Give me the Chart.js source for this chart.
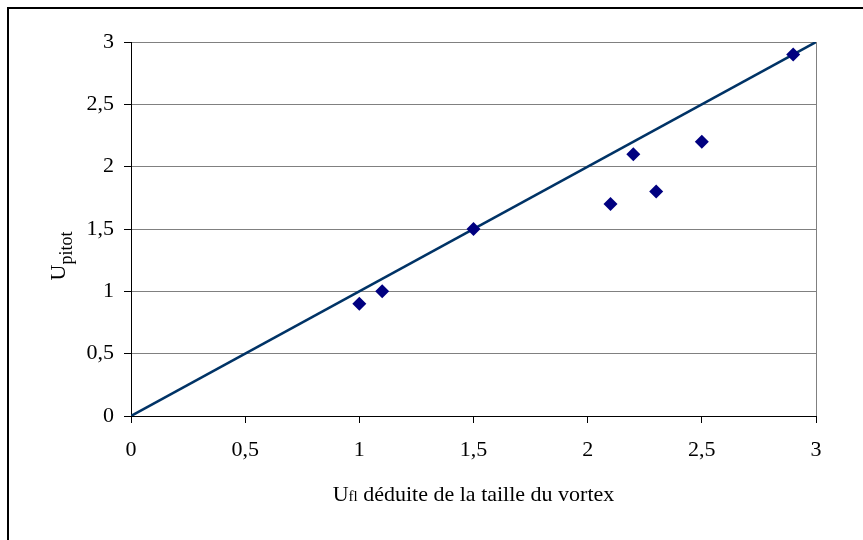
<!DOCTYPE html>
<html>
<head>
<meta charset="utf-8">
<script src="https://cdn.jsdelivr.net/npm/chart.js@4"></script>
<style>
  html, body { margin: 0; padding: 0; background: #fff; }
  #wrap { width: 863px; height: 540px; position: relative; }
</style>
</head>
<body>
<div id="wrap"><canvas id="chart" width="863" height="540"></canvas></div>
<script>
// Vitesse déduite de la taille du vortex vs vitesse mesurée au pitot
const uFl = [1.0, 1.1, 1.5, 2.1, 2.2, 2.3, 2.5, 2.9];
const uPitot = [0.9, 1.0, 1.5, 1.7, 2.1, 1.8, 2.2, 2.9];
// droite y = x
const refX = [0, 3];
const refY = [0, 3];

const serif = "'Liberation Serif', 'Times New Roman', serif";

// draws a run of [text, font, dy] pieces starting at x0
function drawRun(ctx, parts, x0) {
  let x = x0;
  parts.forEach(p => {
    ctx.font = p[1];
    ctx.fillText(p[0], x, p[2]);
    x += ctx.measureText(p[0]).width;
  });
}
function runWidth(ctx, parts) {
  let w = 0;
  parts.forEach(p => { ctx.font = p[1]; w += ctx.measureText(p[0]).width; });
  return w;
}

// frame, right border of the plot and axis titles with subscripts
const decor = {
  id: 'decor',
  afterDraw(chart) {
    const ctx = chart.ctx;
    const a = chart.chartArea;
    ctx.save();
    ctx.strokeStyle = '#000';
    ctx.lineWidth = 2;
    ctx.strokeRect(8, 8, 880, 560);

    ctx.strokeStyle = '#808080';
    ctx.lineWidth = 1;
    ctx.beginPath();
    ctx.moveTo(Math.round(a.right) + 0.5, a.top);
    ctx.lineTo(Math.round(a.right) + 0.5, a.bottom);
    ctx.stroke();
    ctx.restore();

    ctx.save();
    ctx.fillStyle = '#000';
    ctx.textBaseline = 'alphabetic';

    // x title
    const xParts = [['U', '22px ' + serif, 0], ['fl', '15px ' + serif, 0],
      [' déduite de la taille du vortex', '22px ' + serif, 0]];
    const w = runWidth(ctx, xParts);
    drawRun(ctx, xParts.map(p => [p[0], p[1], 501]), (a.left + a.right) / 2 - w / 2);

    // y title, rotated
    const yParts = [['U', '22px ' + serif, 0], ['pitot', '18px ' + serif, 7]];
    ctx.translate(65, 256);
    ctx.rotate(-Math.PI / 2);
    drawRun(ctx, yParts, -runWidth(ctx, yParts) / 2);
    ctx.restore();
  }
};

const fmt = v => String(v).replace('.', ',');

new Chart(document.getElementById('chart'), {
  type: 'scatter',
  data: {
    datasets: [
      {
        type: 'line',
        data: refX.map((v, i) => ({ x: v, y: refY[i] })),
        borderColor: '#003366',
        borderWidth: 2.5,
        pointRadius: 0,
        fill: false,
        order: 2
      },
      {
        data: uFl.map((v, i) => ({ x: v, y: uPitot[i] })),
        pointStyle: 'rectRot',
        pointRadius: 7,
        backgroundColor: '#000080',
        borderColor: '#000080',
        borderWidth: 0,
        order: 1
      }
    ]
  },
  options: {
    responsive: false,
    animation: false,
    layout: { padding: { left: 0, top: 42, right: 47, bottom: 0 } },
    plugins: { legend: { display: false }, tooltip: { enabled: false } },
    scales: {
      x: {
        type: 'linear',
        min: 0, max: 3,
        afterFit: s => { s.height = 124; },
        ticks: {
          stepSize: 0.5,
          color: '#000',
          font: { family: serif, size: 22 },
          padding: 14,
          maxRotation: 0,
          callback: fmt
        },
        grid: { drawOnChartArea: false, tickLength: 7, tickColor: '#000' },
        border: { color: '#000', width: 1 }
      },
      y: {
        type: 'linear',
        min: 0, max: 3,
        afterFit: s => { s.width = 131; },
        ticks: {
          stepSize: 0.5,
          color: '#000',
          font: { family: serif, size: 22 },
          padding: 10,
          callback: fmt
        },
        grid: { color: '#808080', lineWidth: 1, tickLength: 7, tickColor: '#000' },
        border: { color: '#000', width: 1 }
      }
    }
  },
  plugins: [decor]
});
</script>
</body>
</html>
